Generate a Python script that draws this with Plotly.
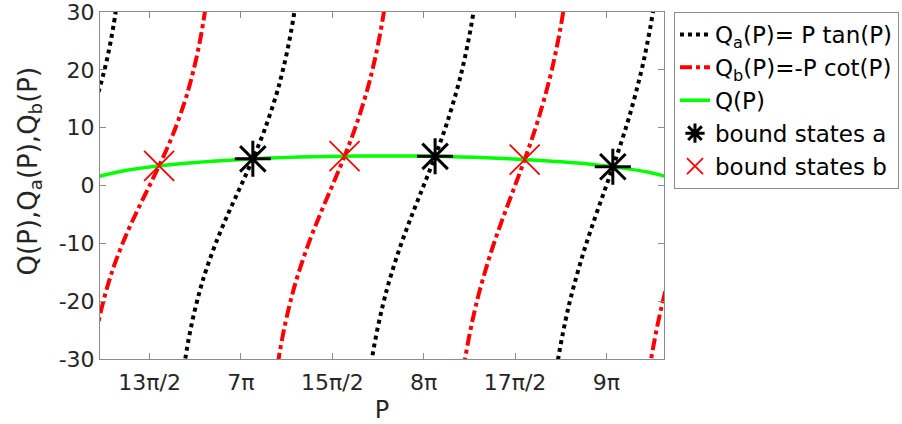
import plotly.graph_objects as go

# Q_a(P) = P tan(P) branches (black dotted)
qa1_p = [19.50, 19.55, 19.60, 19.65, 19.70, 19.75, 19.80, 19.85]
qa1_q = [14.82, 16.47, 18.26, 20.23, 22.42, 24.89, 27.69, 30.91]
qa2_p = [20.991, 21.091, 21.191, 21.291, 21.391, 21.591, 21.791, 21.991, 22.191, 22.391, 22.591, 22.691, 22.791, 22.891, 22.991]
qa2_q = [-32.69, -26.58, -21.82, -17.93, -14.63, -9.13, -4.42, 0.0, 4.50, 9.47, 15.45, 19.11, 23.47, 28.85, 35.81]
qa3_p = [24.133, 24.233, 24.333, 24.433, 24.533, 24.733, 24.933, 25.133, 25.333, 25.533, 25.733, 25.833, 25.933, 26.033, 26.133]
qa3_q = [-37.58, -30.54, -25.05, -20.58, -16.78, -10.46, -5.05, 0.0, 5.14, 10.80, 17.60, 21.76, 26.70, 32.81, 40.70]
qa4_p = [27.274, 27.374, 27.474, 27.574, 27.674, 27.874, 28.074, 28.274, 28.474, 28.674, 28.874, 28.974, 29.074, 29.174, 29.274]
qa4_q = [-42.48, -34.50, -28.29, -23.23, -18.93, -11.79, -5.69, 0.0, 5.77, 12.12, 19.75, 24.40, 29.93, 36.77, 45.59]

# Q_b(P) = -P cot(P) branches (red dash-dot)
qb1_p = [19.420, 19.520, 19.620, 19.720, 19.820, 20.020, 20.220, 20.420, 20.620, 20.820, 21.020, 21.120, 21.220, 21.320, 21.420]
qb1_q = [-30.24, -24.60, -20.20, -16.61, -13.56, -8.46, -4.10, 0.0, 4.18, 8.80, 14.38, 17.79, 21.85, 26.87, 33.36]
qb2_p = [22.562, 22.662, 22.762, 22.862, 22.962, 23.162, 23.362, 23.562, 23.762, 23.962, 24.162, 24.262, 24.362, 24.462, 24.562]
qb2_q = [-35.14, -28.56, -23.44, -19.26, -15.71, -9.79, -4.74, 0.0, 4.82, 10.13, 16.53, 20.44, 25.08, 30.83, 38.25]
qb3_p = [25.704, 25.804, 25.904, 26.004, 26.104, 26.304, 26.504, 26.704, 26.904, 27.104, 27.304, 27.404, 27.504, 27.604, 27.704]
qb3_q = [-40.03, -32.52, -26.67, -21.90, -17.86, -11.12, -5.37, 0.0, 5.45, 11.46, 18.68, 23.08, 28.32, 34.79, 43.15]
qb4_p = [28.845, 28.945, 29.045, 29.145, 29.245, 29.345, 29.445]
qb4_q = [-44.92, -36.48, -29.90, -24.55, -20.01, -16.03, -12.45]

# Q(P) (green)
q_p = [19.54, 20.0, 20.5, 21.0, 21.5, 22.0, 22.5, 23.0, 23.5, 24.0, 24.5, 25.0, 25.5, 26.0, 26.5, 27.0, 27.5, 28.0, 28.5, 29.0, 29.27]
q_q = [1.55, 2.58, 3.29, 3.81, 4.20, 4.51, 4.74, 4.92, 5.03, 5.10, 5.12, 5.09, 5.00, 4.87, 4.68, 4.42, 4.09, 3.66, 3.09, 2.28, 1.64]

# bound states
ba_p = [22.195, 25.329, 28.385]
ba_q = [4.61, 5.04, 3.25]
bb_p = [20.583, 23.772, 26.869]
bb_q = [3.38, 5.07, 4.49]

# axis ticks
xtick_vals = [20.4204, 21.9911, 23.5619, 25.1327, 26.7035, 28.2743]
xtick_text = ["13\u03c0/2", "7\u03c0", "15\u03c0/2", "8\u03c0", "17\u03c0/2", "9\u03c0"]
ytick_vals = [-30, -20, -10, 0, 10, 20, 30]
ytick_text = ["-30", "-20", "-10", "0", "10", "20", "30"]

fig = go.Figure()

qa_branches = [(qa1_p, qa1_q), (qa2_p, qa2_q), (qa3_p, qa3_q), (qa4_p, qa4_q)]
for i, (px, qy) in enumerate(qa_branches):
    fig.add_trace(go.Scatter(
        x=px, y=qy, mode="lines",
        line=dict(color="black", width=4, dash="dot", shape="spline"),
        name="Q<sub>a</sub>(P)= P tan(P)", legendgroup="qa", showlegend=(i == 0)))

qb_branches = [(qb1_p, qb1_q), (qb2_p, qb2_q), (qb3_p, qb3_q), (qb4_p, qb4_q)]
for i, (px, qy) in enumerate(qb_branches):
    fig.add_trace(go.Scatter(
        x=px, y=qy, mode="lines",
        line=dict(color="#ff0000", width=4, dash="dashdot", shape="spline"),
        name="Q<sub>b</sub>(P)=-P cot(P)", legendgroup="qb", showlegend=(i == 0)))

fig.add_trace(go.Scatter(
    x=q_p, y=q_q, mode="lines",
    line=dict(color="#00ff00", width=3.5, shape="spline"),
    name="Q(P)"))

fig.add_trace(go.Scatter(
    x=ba_p, y=ba_q, mode="markers",
    marker=dict(symbol="asterisk-open", size=30, color="black",
                line=dict(color="black", width=3)),
    name="bound states a"))

fig.add_trace(go.Scatter(
    x=bb_p, y=bb_q, mode="markers",
    marker=dict(symbol="x-thin-open", size=30, color="#ff0000",
                line=dict(color="#ff0000", width=1.8)),
    name="bound states b"))

axis_common = dict(
    showline=True, linecolor="#8c8c8c", linewidth=1, mirror="ticks",
    ticks="inside", ticklen=6, tickcolor="#8c8c8c", tickwidth=1,
    showgrid=False, zeroline=False, automargin=False,
    ticklabeloverflow="allow",
    tickfont=dict(family="DejaVu Sans", size=22, color="#262626"),
)

fig.update_layout(
    width=902, height=424,
    margin=dict(l=100, r=238, t=12, b=65, autoexpand=False),
    paper_bgcolor="white", plot_bgcolor="white",
    font=dict(family="DejaVu Sans", color="#262626"),
    xaxis=dict(range=[19.567, 29.265], tickvals=xtick_vals, ticktext=xtick_text,
               ticklabelstandoff=4,
               title=dict(text="P", font=dict(size=24, color="#262626"), standoff=8),
               **axis_common),
    yaxis=dict(range=[-30, 30], tickvals=ytick_vals, ticktext=ytick_text,
               **axis_common),
    legend=dict(x=1.0177, y=1.0, xanchor="left", yanchor="top",
                bordercolor="#8c8c8c", borderwidth=1, bgcolor="white",
                font=dict(family="DejaVu Sans", size=23, color="black"),
                tracegroupgap=0, itemwidth=30),
    showlegend=True,
    annotations=[dict(
        text="Q(P),Q<sub>a</sub>(P),Q<sub>b</sub>(P)",
        xref="paper", yref="paper", x=-0.125, y=0.542,
        xanchor="center", yanchor="middle", textangle=-90, showarrow=False,
        font=dict(family="DejaVu Sans", size=26, color="#262626"))],
)

fig.write_html("out.html", config={"displayModeBar": False},
               post_script="document.body.style.margin='0';")
